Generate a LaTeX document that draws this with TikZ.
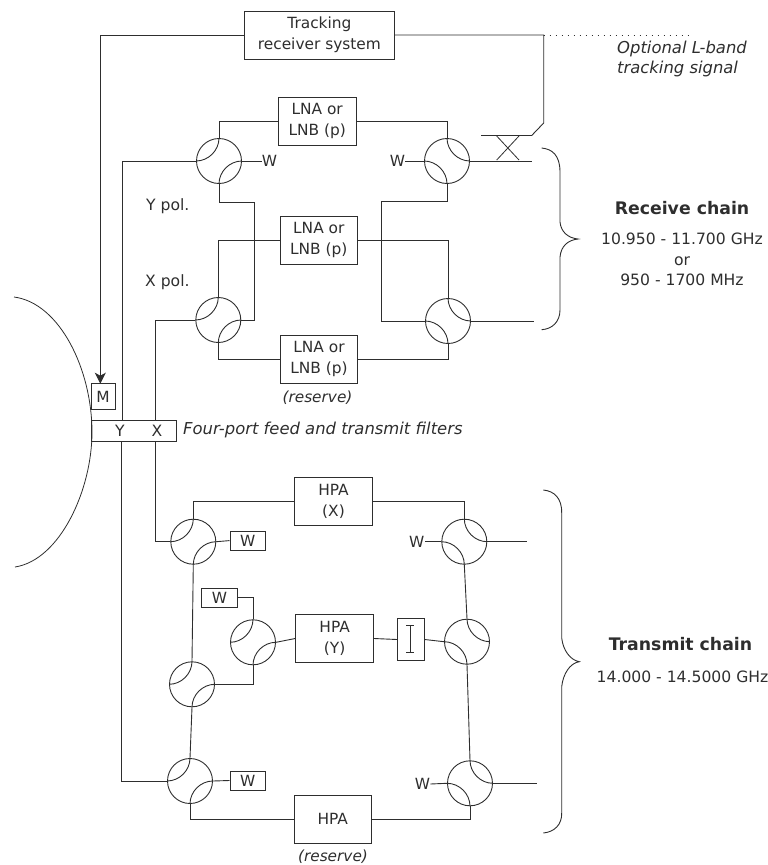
\documentclass[tikz,border=0pt]{standalone}
\usepackage{fontspec}
\setmainfont{DejaVu Sans}
\usetikzlibrary{arrows.meta}
\definecolor{ink}{gray}{0.18}
\tikzset{
  ln/.style={draw=ink,line width=0.9pt},
  blk/.style={ln,rectangle,inner sep=0pt,align=center,text=ink,font=\fontsize{15.4}{21}\selectfont},
  lbl/.style={inner sep=0pt,text=ink,align=center,font=\fontsize{15.6}{20.5}\selectfont},
  ital/.style={inner sep=0pt,text=ink,align=left,font=\fontsize{16.4}{20}\selectfont\itshape},
  ress/.style={inner sep=0pt,text=ink,font=\fontsize{15.3}{20}\selectfont\itshape},
  bold/.style={inner sep=0pt,text=ink,font=\fontsize{17.3}{21}\selectfont\bfseries},
  wl/.style={inner sep=0pt,text=ink,font=\fontsize{15.4}{18}\selectfont},
  cpl/.style={ln,circle,inner sep=0pt,minimum size=45pt}
}
\newcommand{\cplA}[3]{%
  \node[cpl] (#1) at (#2,#3) {};
  \draw[ln] (#1.west) .. controls +(12.4,0) and +(0,12.4) .. (#1.north);
  \draw[ln] (#1.east) .. controls +(-12.4,0) and +(0,-12.4) .. (#1.south);}
\newcommand{\cplB}[3]{%
  \node[cpl] (#1) at (#2,#3) {};
  \draw[ln] (#1.north) .. controls +(0,12.4) and +(-12.4,0) .. (#1.east);
  \draw[ln] (#1.west) .. controls +(12.4,0) and +(0,-12.4) .. (#1.south);}
\newcommand{\boxn}[6]{\node[blk,minimum width=#4pt,minimum height=#5pt] (#1) at (#2,#3) {#6};}
\begin{document}
\begin{tikzpicture}[x=1pt,y=-1pt]
\useasboundingbox (0,0) rectangle (768,865);
% antenna
\coordinate (an1) at (14,297);
\coordinate (an2) at (92,432);
\coordinate (an3) at (15,567);
\draw[ln,line width=0.8pt] (an1) .. controls (60,303) and (92,370) .. (an2) .. controls (92,490) and (60,560) .. (an3);
% couplers
\cplA{C1}{219}{161}
\cplB{C2}{447}{161}
\cplA{C3}{218.3}{320}
\cplB{C4}{448}{321}
\cplA{T1}{193.3}{541.7}
\cplA{T2}{253}{642.3}
\cplA{T3}{192}{684.3}
\cplA{T4}{190}{781}
\cplB{R1}{464.3}{541.7}
\cplB{R2}{467}{641.7}
\cplB{R3}{470}{783.3}
% boxes
\boxn{TR}{319.4}{35}{150}{48}{Tracking\\receiver system}
\boxn{L1}{317.2}{121}{77.5}{48}{LNA or\\LNB (p)}
\boxn{L2}{318.8}{240}{77.5}{48}{LNA or\\LNB (p)}
\boxn{L3}{319}{359}{77.5}{48}{LNA or\\LNB (p)}
\boxn{M}{103}{396.4}{24}{25.3}{M}
\boxn{FD}{133.8}{430.8}{84.4}{21.7}{}
\boxn{H1}{333.5}{501}{77.6}{48}{HPA\\(X)}
\boxn{H2}{334.7}{638.5}{78}{48.4}{HPA\\(Y)}
\boxn{H3}{332.8}{819.2}{77.7}{48.3}{HPA}
\boxn{W1}{247.8}{540.6}{35.7}{19.3}{W}
\boxn{W2}{219.5}{597.8}{35.7}{19}{W}
\boxn{W3}{247.8}{780.5}{35.7}{19}{W}
\boxn{IS}{410.8}{639.5}{27}{42.4}{}
\coordinate (is1) at (410,625.7);
\coordinate (is2) at (410,652.7);
\draw[ln,line width=0.7pt] (is1) -- (is2);
\draw[ln,line width=0.7pt] ([xshift=-4pt]is1) -- ([xshift=4pt]is1);
\draw[ln,line width=0.7pt] ([xshift=-4pt]is2) -- ([xshift=4pt]is2);
% labels in feed
\node[lbl] (lY) at (120,431) {Y};
\node[lbl] (lX) at (157,431) {X};
% text
\node[ital,anchor=west] (tOpt) at (617,59) {Optional L-band\\tracking signal};
\node[bold] (tRx) at (682,208) {Receive chain};
\node[lbl] (tRxf) at (682,259.5) {10.950 - 11.700 GHz\\or\\950 - 1700 MHz};
\node[lbl,anchor=west] (tYp) at (146,206) {Y pol.};
\node[lbl,anchor=west] (tXp) at (145,282) {X pol.};
\node[ital,anchor=west] (tFeed) at (183,430) {Four-port feed and transmit filters};
\node[ress] (tRes1) at (317.5,398) {(reserve)};
\node[ress] (tRes2) at (333,857) {(reserve)};
\node[bold] (tTx) at (680.5,644) {Transmit chain};
\node[lbl] (tTxf) at (682.5,677) {14.000 - 14.5000 GHz};
\node[wl] (wC1) at (269.5,161) {W};
\node[wl] (wC2) at (397.5,161) {W};
\node[wl] (wR1) at (416.8,541.7) {W};
\node[wl] (wR3) at (422.5,784) {W};
% free coordinates
\coordinate (ytop) at (122,420);
\coordinate (ybot) at (121,441.7);
\coordinate (xtop) at (155.7,420);
\coordinate (xbot) at (155.7,441.7);
\coordinate (mtop) at (100.3,383.7);
\coordinate (tap) at (543.7,35);
\coordinate (tap2) at (543.7,123);
\coordinate (tap3) at (531.7,135.5);
\coordinate (tap4) at (481,135.5);
\coordinate (dotend) at (692,35);
\coordinate (a1) at (254.5,202);
\coordinate (a2) at (381,201);
\coordinate (rx1) at (531.7,161);
\coordinate (rx2) at (534,321);
\coordinate (tx1) at (526.7,541.7);
\coordinate (tx3) at (536.7,783.3);
\coordinate (xc1) at (496.7,136);
\coordinate (xc2) at (519,160);
\coordinate (xc3) at (519,136);
\coordinate (xc4) at (496.7,160);
% tracking
\draw[ln,-{Stealth[length=11pt,width=11pt,inset=3pt]}] (TR.west) -| (mtop);
\draw[ln] (TR.east) -- (tap) -- (tap2) -- (tap3) -- (tap4);
\draw[ink,line width=0.9pt,dash pattern=on 1.5pt off 4.5pt] (tap) -- (dotend);
\draw[ln,line width=0.8pt] (xc1) -- (xc2);
\draw[ln,line width=0.8pt] (xc3) -- (xc4);
% receive
\draw[ln] (C1.west) -| (ytop);
\draw[ln] (C3.west) -| (xtop);
\draw[ln] (C1.north) |- (L1.west);
\draw[ln] (L1.east) -| (C2.north);
\draw[ln] (C1.east) -- (wC1.west);
\draw[ln] (C2.west) -- (wC2.east);
\draw[ln] (C2.east) -- (rx1);
\draw[ln] (C4.east) -- (rx2);
\draw[ln] (C1.south) |- (a1) |- (C3.east);
\draw[ln] (C2.south) |- (a2) |- (C4.west);
\draw[ln] (C3.north) |- (L2.west);
\draw[ln] (L2.east) -| (C4.north);
\draw[ln] (C3.south) |- (L3.west);
\draw[ln] (L3.east) -| (C4.south);
% transmit
\draw[ln] (ybot) |- (T4.west);
\draw[ln] (xbot) |- (T1.west);
\draw[ln] (T1.north) |- (H1.west);
\draw[ln] (H1.east) -| (R1.north);
\draw[ln] (T1.east) -- (W1.west);
\draw[ln] (T4.east) -- (W3.west);
\draw[ln] (T1.south) -- (T3.north);
\draw[ln] (T3.south) -- (T4.north);
\draw[ln] (T3.east) -| (T2.south);
\draw[ln] (T2.north) |- (W2.east);
\draw[ln] (T2.east) -- (H2.west);
\draw[ln] (H2.east) -- (IS.west);
\draw[ln] (IS.east) -- (R2.west);
\draw[ln] (T4.south) |- (H3.west);
\draw[ln] (H3.east) -| (R3.south);
\draw[ln] (R1.south) -- (R2.north);
\draw[ln] (R2.south) -- (R3.north);
\draw[ln] (R1.west) -- (wR1.east);
\draw[ln] (R3.west) -- (wR3.east);
\draw[ln] (R1.east) -- (tx1);
\draw[ln] (R3.east) -- (tx3);
% braces
\coordinate (b1) at (541.7,148);
\coordinate (b2) at (560,172);
\coordinate (b3) at (560,222);
\coordinate (b4) at (578,239);
\coordinate (b5) at (560,257);
\coordinate (b6) at (560,310);
\coordinate (b7) at (541.7,329.7);
\draw[ln] (b1) .. controls (552,149) and (560,155) .. (b2) -- (b3) .. controls (561,232) and (568,238) .. (b4) .. controls (568,240) and (561,246) .. (b5) -- (b6) .. controls (560,322) and (552,329) .. (b7);
\coordinate (d1) at (543.3,490);
\coordinate (d2) at (561.7,513);
\coordinate (d3) at (561.7,638);
\coordinate (d4) at (579.3,661.7);
\coordinate (d5) at (561.7,686.7);
\coordinate (d6) at (561.7,813);
\coordinate (d7) at (543.3,833);
\draw[ln] (d1) .. controls (554,491) and (562,498) .. (d2) -- (d3) .. controls (563,650) and (570,660) .. (d4) .. controls (570,663) and (563,674) .. (d5) -- (d6) .. controls (562,825) and (554,832) .. (d7);
\end{tikzpicture}
\end{document}
